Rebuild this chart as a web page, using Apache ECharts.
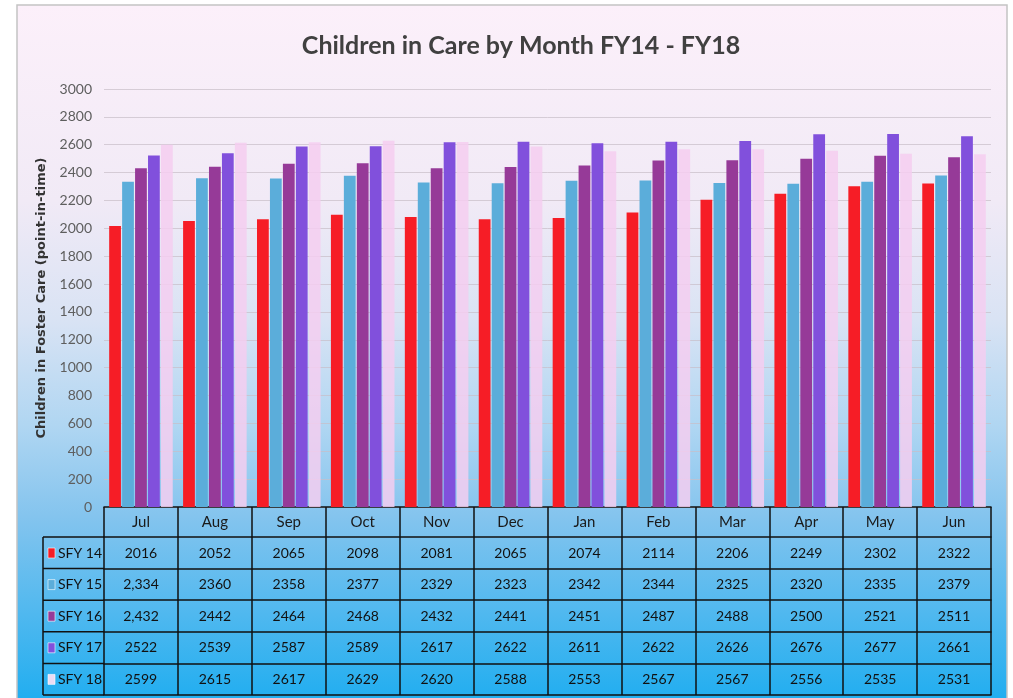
<!DOCTYPE html>
<html>
<head>
<meta charset="utf-8">
<title>Children in Care by Month FY14 - FY18</title>
<script src="https://cdn.jsdelivr.net/npm/echarts@6/dist/echarts.min.js"></script>
<style>
  html, body { margin: 0; padding: 0; background: #fff; }
  #chart { width: 1013px; height: 698px; }
</style>
</head>
<body>
<div id="chart"></div>
<script>
// 数据
const months = ["Jul", "Aug", "Sep", "Oct", "Nov", "Dec", "Jan", "Feb", "Mar", "Apr", "May", "Jun"];
const seriesNames = ["SFY 14", "SFY 15", "SFY 16", "SFY 17", "SFY 18"];
const sfy14 = [2016, 2052, 2065, 2098, 2081, 2065, 2074, 2114, 2206, 2249, 2302, 2322];
const sfy15 = [2334, 2360, 2358, 2377, 2329, 2323, 2342, 2344, 2325, 2320, 2335, 2379];
const sfy16 = [2432, 2442, 2464, 2468, 2432, 2441, 2451, 2487, 2488, 2500, 2521, 2511];
const sfy17 = [2522, 2539, 2587, 2589, 2617, 2622, 2611, 2622, 2626, 2676, 2677, 2661];
const sfy18 = [2599, 2615, 2617, 2629, 2620, 2588, 2553, 2567, 2567, 2556, 2535, 2531];
const yTicks = [0, 200, 400, 600, 800, 1000, 1200, 1400, 1600, 1800, 2000, 2200, 2400, 2600, 2800, 3000];
// 表格里带千分位的单元格 (行, 列)
const commaCells = [[1, 0], [2, 0]];

const allSeries = [sfy14, sfy15, sfy16, sfy17, sfy18];
const colors = ["#f61d26", "#5badda", "#963a98", "#8150dc", "rgba(244,206,240,0.85)"];
const keyColors = ["#f61d26", "#5badda", "#963a98", "#8150dc", "#ecdcf4"];

// 布局
const gridLeft = 104, gridRight = 22, gridTop = 89, gridBottom = 191;
const headerH = 30, rowH = 31.6;

const tableText = allSeries.map((s, r) => s.map((v, c) =>
    commaCells.some(p => p[0] === r && p[1] === c) ? v.toLocaleString("en-US") : String(v)));

let xAxes = [{
    type: "category",
    data: months,
    position: "bottom",
    axisLine: { lineStyle: { color: "#111", width: 1.5 } },
    axisTick: { show: true, interval: 0, length: headerH, lineStyle: { color: "#111", width: 1.5 } },
    axisLabel: { interval: 0, margin: 8, fontSize: 15, color: "#1a1a1a", fontFamily: "Lato" },
    splitLine: { show: false },
}];
tableText.forEach((row, i) => {
    xAxes.push({
        type: "category",
        data: row,
        position: "bottom",
        offset: headerH + rowH * i,
        axisLine: { lineStyle: { color: "#111", width: 1.5 } },
        axisTick: { show: true, interval: 0, length: rowH, lineStyle: { color: "#111", width: 1.5 } },
        axisLabel: { interval: 0, margin: 9, fontSize: 14, color: "#111", fontFamily: "Lato" },
    });
});
// 表格底边
xAxes.push({
    type: "category",
    data: months,
    position: "bottom",
    offset: headerH + rowH * 5,
    axisLine: { lineStyle: { color: "#111", width: 1.5 } },
    axisTick: { show: false },
    axisLabel: { show: false },
});

// 左侧图例格子: 边框 + 色块 + 名称
const tblTop = 698 - gridBottom + headerH;
let cellParts = [];
for (let i = 0; i <= 5; i++) {
    cellParts.push({
        type: "line", z: 50, silent: true,
        shape: { x1: 43, y1: tblTop + rowH * i, x2: gridLeft, y2: tblTop + rowH * i },
        style: { stroke: "#111", lineWidth: 1.5 },
    });
}
cellParts.push({
    type: "line", z: 50, silent: true,
    shape: { x1: 43, y1: tblTop, x2: 43, y2: tblTop + rowH * 5 },
    style: { stroke: "#111", lineWidth: 1.5 },
});
seriesNames.forEach((name, i) => {
    const rowY = tblTop + rowH * i;
    cellParts.push({
        type: "rect", z: 50, silent: true,
        shape: { x: 48, y: rowY + 11, width: 7, height: 10 },
        style: { fill: keyColors[i], stroke: "rgba(255,255,255,0.6)", lineWidth: 1 },
    });
    cellParts.push({
        type: "text", z: 50, silent: true,
        style: {
            text: name, x: 58, y: rowY + 9,
            fontFamily: "Lato", fontSize: 14, fill: "#111", verticalAlign: "top",
        },
    });
});

let option = {
    backgroundColor: "#fff",
    title: {
        text: "Children in Care by Month FY14 - FY18",
        left: 516,
        textAlign: "center",
        top: 28,
        textStyle: { fontFamily: "Lato", fontWeight: "bold", fontSize: 25, color: "#404040" },
    },
    grid: { left: gridLeft, right: gridRight, top: gridTop, bottom: gridBottom, containLabel: false },
    xAxis: xAxes,
    yAxis: {
        type: "value",
        min: yTicks[0],
        max: yTicks[yTicks.length - 1],
        interval: yTicks[1] - yTicks[0],
        name: "Children in Foster Care (point-in-time)",
        nameLocation: "middle",
        nameGap: 51,
        nameTextStyle: { fontFamily: "DejaVu Sans", fontWeight: "bold", fontSize: 13, color: "#333" },
        axisLine: { show: false },
        axisTick: { show: false },
        axisLabel: { margin: 12, fontSize: 14, color: "#5e5e5e", fontFamily: "Lato", formatter: v => String(v) },
        splitLine: { lineStyle: { color: "rgba(200,190,200,0.7)", width: 1 } },
    },
    series: allSeries.map((data, i) => ({
        name: seriesNames[i],
        type: "bar",
        data: data,
        barCategoryGap: "14%",
        barGap: "10%",
        itemStyle: { color: colors[i] },
    })),
    graphic: [
        {
            type: "rect", z: -100, silent: true,
            shape: { x: 17, y: 5, width: 990, height: 700 },
            style: {
                stroke: "#c4c4c4", lineWidth: 1.5,
                fill: {
                    type: "linear", x: 0, y: 0, x2: 0, y2: 1,
                    colorStops: [
                        { offset: 0, color: "#fcf0fa" },
                        { offset: 0.28, color: "#f1eaf6" },
                        { offset: 0.45, color: "#d9e3f4" },
                        { offset: 0.6, color: "#b0d6f2" },
                        { offset: 0.73, color: "#84c4ee" },
                        { offset: 1, color: "#1eadf0" },
                    ],
                },
            },
        },
        ...cellParts,
    ],
};

let myChart = echarts.init(document.getElementById("chart"));
myChart.setOption(option);
</script>
</body>
</html>
